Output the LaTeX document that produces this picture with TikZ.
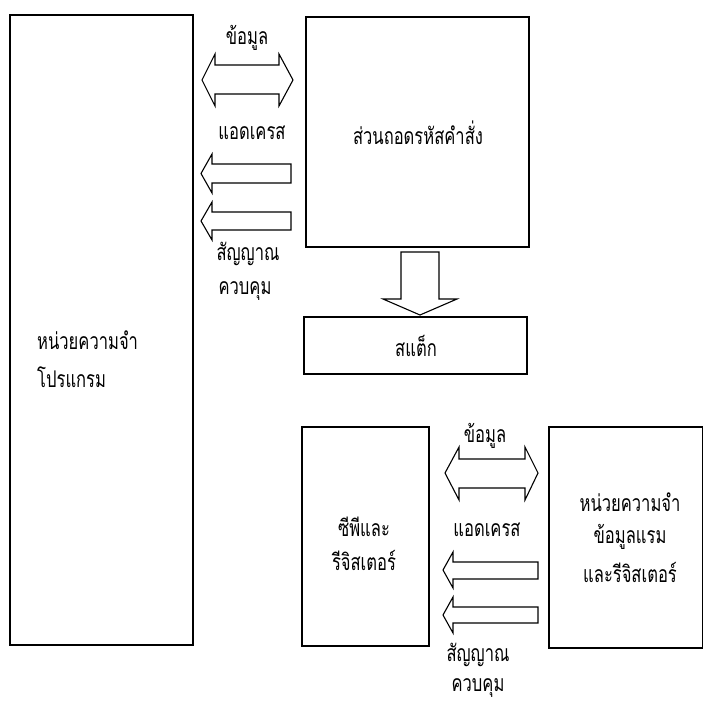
\documentclass[tikz,border=0pt]{standalone}
\usepackage{fontspec}
\newfontfamily\thai[Script=Thai,FakeStretch=0.72]{Loma}
\begin{document}
\begin{tikzpicture}[x=1pt,y=-1pt,
  box/.style={draw,line width=1.1pt},
  barrow/.style={draw,line width=1.1pt,line join=miter},
  lbl/.style={font=\thai\fontsize{23}{25}\selectfont,inner sep=0pt}]
\useasboundingbox (0,0) rectangle (704,702);
% boxes
\draw[box] (10,15) rectangle (193,645);
\draw[box] (306,17) rectangle (529,247);
\draw[box] (304,317) rectangle (527,374);
\draw[box] (302,427) rectangle (429,646);
\draw[box] (549,427) rectangle (702.5,648);
% upper arrows
\draw[barrow] (202,80) -- (215,54) -- (215,65) -- (279,65) -- (279,54) -- (293,80) -- (279,106) -- (279,94) -- (215,94) -- (215,106) -- cycle;
\draw[barrow] (201,173.5) -- (212,154) -- (212,164) -- (291,164) -- (291,183) -- (212,183) -- (212,193) -- cycle;
\draw[barrow] (201,221) -- (212,202) -- (212,212) -- (291,212) -- (291,230) -- (212,230) -- (212,240) -- cycle;
% down arrow
\draw[barrow] (401,252) -- (439,252) -- (439,299) -- (457,299) -- (420,315) -- (383,299) -- (401,299) -- cycle;
% lower arrows
\draw[barrow] (445,473) -- (459,447) -- (459,459) -- (525,459) -- (525,447) -- (538,473) -- (525,500) -- (525,488) -- (459,488) -- (459,500) -- cycle;
\draw[barrow] (443,570) -- (453,552) -- (453,562) -- (538,562) -- (538,579) -- (453,579) -- (453,588) -- cycle;
\draw[barrow] (443,615) -- (453,597) -- (453,607) -- (538,607) -- (538,623) -- (453,623) -- (453,633) -- cycle;
% labels
\node[lbl] (t1) at (247,38) {ข้อมูล};
\node[lbl] (t2) at (252,133) {แอดเครส};
\node[lbl] (t3) at (248,254) {สัญญาณ};
\node[lbl] (t4) at (245,291) {ควบคุม};
\node[lbl,anchor=west] (t5) at (37,340) {หน่วยความจำ};
\node[lbl,anchor=west] (t6) at (37,377) {โปรแกรม};
\node[lbl] (t7) at (418,133) {ส่วนถอดรหัสคำสั่ง};
\node[lbl] (t8) at (416,346) {สแต็ก};
\node[lbl] (t9) at (485,436) {ข้อมูล};
\node[lbl] (t10) at (487,530) {แอดเครส};
\node[lbl] (t11) at (478,655) {สัญญาณ};
\node[lbl] (t12) at (478,688) {ควบคุม};
\node[lbl] (t13) at (364,527) {ซีพีและ};
\node[lbl] (t14) at (364,560) {รีจิสเตอร์};
\node[lbl] (t15) at (630,502) {หน่วยความจำ};
\node[lbl] (t16) at (630,537) {ข้อมูลแรม};
\node[lbl] (t17) at (630,572) {และรีจิสเตอร์};
\end{tikzpicture}
\end{document}
